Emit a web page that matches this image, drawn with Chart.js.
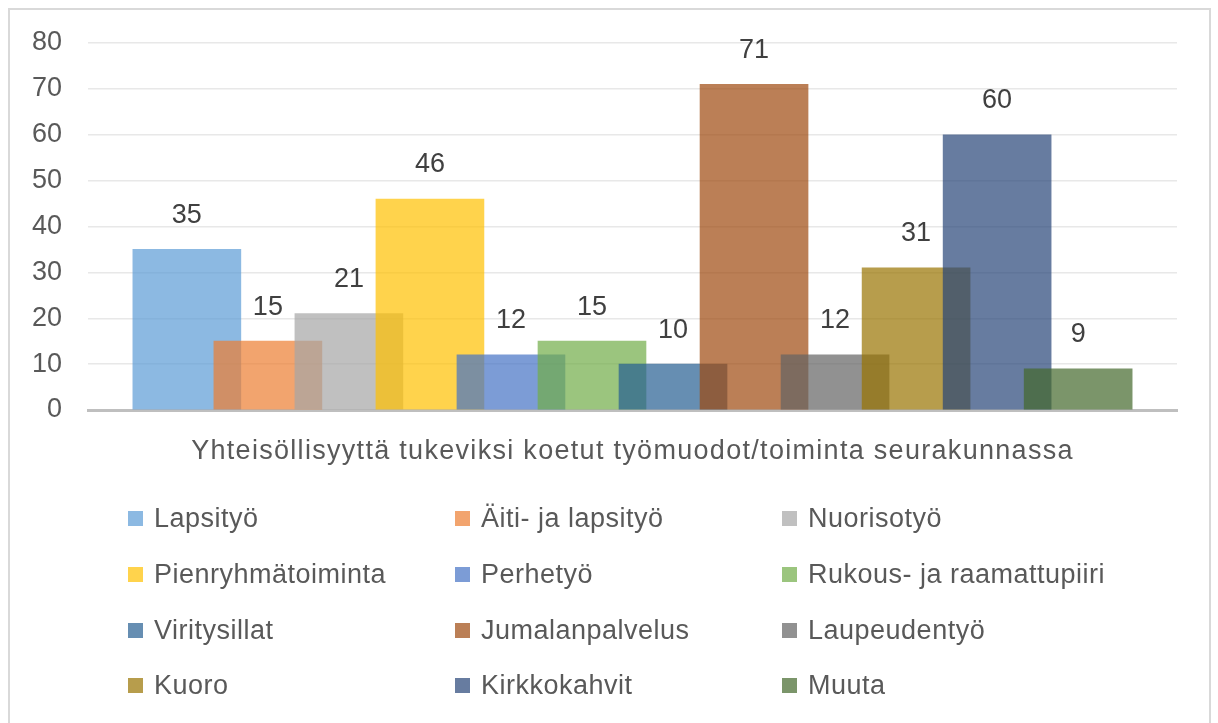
<!DOCTYPE html>
<html lang="fi">
<head>
    <meta charset="UTF-8">
    <title>Yhteisöllisyyttä tukeviksi koetut työmuodot</title>
    <script src="https://cdn.jsdelivr.net/npm/chart.js"></script>
    <style>
        body {
            margin: 0;
            background: #fff;
            font-family: 'Liberation Sans', Arial, sans-serif;
        }
        .page {
            position: relative;
            width: 1218px;
            height: 723px;
            overflow: hidden;
        }
        .frame {
            position: absolute;
            left: 8px;
            top: 8px;
            width: 1199px;
            height: 740px;
            border: 2px solid #d9d9d9;
        }
        .chart-wrapper {
            position: absolute;
            left: 0;
            top: 0;
            width: 1218px;
            height: 723px;
        }
        .axis-title {
            position: absolute;
            left: 88px;
            width: 1089px;
            top: 434px;
            text-align: center;
            font-size: 27px;
            line-height: 32px;
            letter-spacing: 1.3px;
            color: #595959;
            white-space: nowrap;
        }
        .legend {
            position: absolute;
            left: 128px;
            top: 491px;
            display: grid;
            grid-template-columns: 327px 327px 327px;
            grid-auto-rows: 55.7px;
        }
        .legend-item {
            display: flex;
            align-items: center;
            font-size: 27px;
            letter-spacing: 0.5px;
            color: #595959;
            white-space: nowrap;
        }
        .legend-box {
            width: 15px;
            height: 15px;
            margin-right: 11px;
            flex: none;
        }
    </style>
</head>
<body>
<div class="page">
    <div class="frame"></div>
    <div class="chart-wrapper">
        <canvas id="myChart"></canvas>
    </div>
    <div class="axis-title" id="axisTitle"></div>
    <div class="legend" id="legend"></div>
</div>

<script>
    const categories = ['Lapsityö', 'Äiti- ja lapsityö', 'Nuorisotyö', 'Pienryhmätoiminta', 'Perhetyö',
        'Rukous- ja raamattupiiri', 'Viritysillat', 'Jumalanpalvelus', 'Laupeudentyö', 'Kuoro',
        'Kirkkokahvit', 'Muuta'];
    const values = [35, 15, 21, 46, 12, 15, 10, 71, 12, 31, 60, 9];
    const xTitle = 'Yhteisöllisyyttä tukeviksi koetut työmuodot/toiminta seurakunnassa';
    const yMin = 0;
    const yMax = 80;
    const yStep = 10;

    // office palette, 30 % transparent like the original
    const colors = [
        'rgba(91, 155, 213, 0.7)', 'rgba(237, 125, 49, 0.7)', 'rgba(165, 165, 165, 0.7)',
        'rgba(255, 192, 0, 0.7)', 'rgba(68, 114, 196, 0.7)', 'rgba(112, 173, 71, 0.7)',
        'rgba(37, 94, 145, 0.7)', 'rgba(158, 72, 14, 0.7)', 'rgba(99, 99, 99, 0.7)',
        'rgba(153, 115, 0, 0.7)', 'rgba(38, 68, 120, 0.7)', 'rgba(67, 104, 43, 0.7)'
    ];

    Chart.defaults.font.family = "'Liberation Sans', Arial, sans-serif";

    const valueLabels = {
        id: 'valueLabels',
        afterDatasetsDraw(chart) {
            const {ctx} = chart;
            const meta = chart.getDatasetMeta(0);
            ctx.save();
            ctx.font = "27px 'Liberation Sans', Arial, sans-serif";
            ctx.fillStyle = '#404040';
            ctx.textAlign = 'center';
            ctx.textBaseline = 'middle';
            meta.data.forEach((bar, i) => {
                ctx.fillText(String(values[i]), bar.x, bar.y - 34);
            });
            ctx.restore();
        }
    };

    const ctx = document.getElementById('myChart').getContext('2d');
    const myChart = new Chart(ctx, {
        type: 'bar',
        data: {
            datasets: [{
                label: 'Työmuodot',
                data: values.map((v, i) => ({x: i, y: v})),
                backgroundColor: colors,
                borderWidth: 0,
                barThickness: 108
            }]
        },
        options: {
            responsive: true,
            maintainAspectRatio: false,
            animation: false,
            layout: {
                padding: {left: 0, right: 41, top: 43, bottom: 313}
            },
            plugins: {
                legend: {display: false},
                tooltip: {enabled: false}
            },
            scales: {
                x: {
                    type: 'linear',
                    min: -1.22,
                    max: 12.22,
                    offset: false,
                    ticks: {display: false},
                    grid: {display: false},
                    border: {display: true, color: '#bfbfbf', width: 3},
                    afterFit(scale) { scale.height = 0; }
                },
                y: {
                    min: yMin,
                    max: yMax,
                    ticks: {
                        stepSize: yStep,
                        padding: 26,
                        color: '#595959',
                        font: {size: 27}
                    },
                    grid: {
                        color: '#e8e8e8',
                        lineWidth: 1.5,
                        drawTicks: false
                    },
                    border: {display: false},
                    afterFit(scale) { scale.width = 88; }
                }
            }
        },
        plugins: [valueLabels]
    });

    document.getElementById('axisTitle').textContent = xTitle;

    const legend = document.getElementById('legend');
    categories.forEach((name, i) => {
        const item = document.createElement('div');
        item.className = 'legend-item';
        const box = document.createElement('span');
        box.className = 'legend-box';
        box.style.background = colors[i];
        const label = document.createElement('span');
        label.textContent = name;
        item.appendChild(box);
        item.appendChild(label);
        legend.appendChild(item);
    });
</script>
</body>
</html>
